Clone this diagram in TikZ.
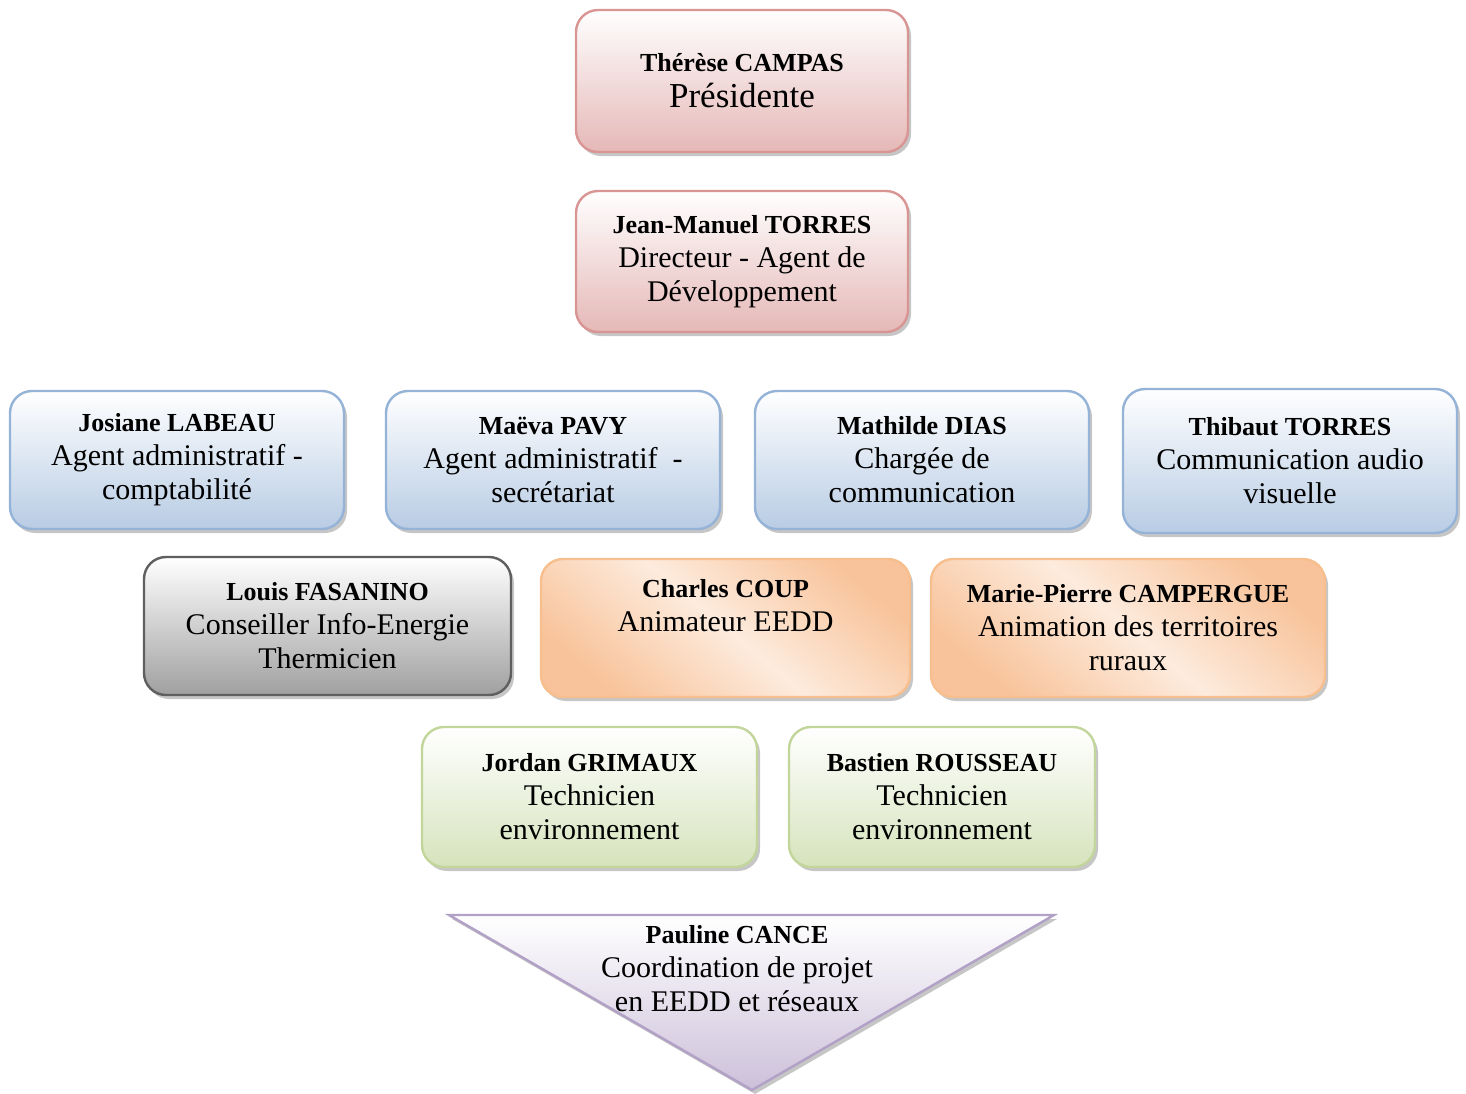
\documentclass[tikz,border=0pt]{standalone}
\usepackage{fontspec}
\setmainfont{Liberation Serif}
\usetikzlibrary{shadows}
\definecolor{pinkline}{HTML}{D99594}
\definecolor{pinkfill}{HTML}{E5B8B7}
\definecolor{blueline}{HTML}{95B3D7}
\definecolor{bluefill}{HTML}{B8CCE4}
\definecolor{grayline}{HTML}{5F5F5F}
\definecolor{grayfill}{HTML}{A0A0A0}
\definecolor{orangeline}{HTML}{F7BE8E}
\definecolor{orangefill}{HTML}{F8C39A}
\definecolor{orangelight}{HTML}{FDEBDD}
\definecolor{greenline}{HTML}{C2D69B}
\definecolor{greenfill}{HTML}{D6E3BC}
\definecolor{purpleline}{HTML}{B2A1C7}
\definecolor{purplefill}{HTML}{CCC0DA}
\newcommand{\who}[1]{{\fontsize{13}{17}\selectfont\bfseries #1}}
\tikzset{every card/.style={rounded corners=11pt, line width=1.2pt, align=center,
                            font=\fontsize{15}{17}\selectfont,
                            drop shadow={shadow xshift=1.5pt, shadow yshift=-2pt, opacity=0.45}},
        pink card/.style = {every card, draw=pinkline, top color=white, bottom color=pinkfill},
        blue card/.style = {every card, draw=blueline, top color=white, bottom color=bluefill},
        gray card/.style = {every card, draw=grayline, top color=white, bottom color=grayfill},
        orange card/.style = {every card, draw=orangeline, top color=orangefill,
                              bottom color=orangefill, middle color=orangelight, shading angle=-40},
        green card/.style = {every card, draw=greenline, top color=white, bottom color=greenfill},
        purple card/.style = {line width=1.2pt, draw=purpleline, top color=white, bottom color=purplefill,
                              drop shadow={shadow xshift=1.5pt, shadow yshift=-2pt, opacity=0.45}},
        }

\begin{document}
\begin{tikzpicture}[x=0.5pt,y=-0.5pt]
    \useasboundingbox (0,0) rectangle (1466,1093);

    % direction
    \node[pink card, minimum width=166pt, minimum height=71pt] (presidente) at (742,81)
        {\who{Thérèse CAMPAS}\\[1pt]{\fontsize{17.5}{19}\selectfont Présidente}};
    \node[pink card, minimum width=166pt, minimum height=70.5pt] (directeur) at (742,261.5)
        {\who{Jean-Manuel TORRES}\\Directeur - Agent de\\Développement};

    % administration and communication
    \node[blue card, minimum width=167pt, minimum height=69pt] (labeau) at (177,460)
        {\who{Josiane LABEAU}\\Agent administratif -\\comptabilité};
    \node[blue card, minimum width=167pt, minimum height=69pt] (pavy) at (553,460)
        {\who{Maëva PAVY}\\Agent administratif~~-\\secrétariat};
    \node[blue card, minimum width=167pt, minimum height=69pt] (dias) at (922,460)
        {\who{Mathilde DIAS}\\Chargée de\\communication};
    \node[blue card, minimum width=167pt, minimum height=72pt] (torres) at (1290,461)
        {\who{Thibaut TORRES}\\Communication audio\\visuelle};

    % energy and animation
    \node[gray card, minimum width=183.5pt, minimum height=69pt] (fasanino) at (327.5,626)
        {\who{Louis FASANINO}\\Conseiller Info-Energie\\Thermicien};
    \node[orange card, minimum width=184.5pt, minimum height=69pt] (coup) at (725.5,628)
        {\who{Charles COUP}\\Animateur EEDD\\\strut};
    \node[orange card, minimum width=197pt, minimum height=69pt] (campergue) at (1128,628)
        {\who{Marie-Pierre CAMPERGUE}\\Animation des territoires\\ruraux};

    % technicians
    \node[green card, minimum width=167.5pt, minimum height=70pt] (grimaux) at (589.5,797)
        {\who{Jordan GRIMAUX}\\Technicien\\environnement};
    \node[green card, minimum width=153pt, minimum height=70pt] (rousseau) at (942,797)
        {\who{Bastien ROUSSEAU}\\Technicien\\environnement};

    % coordination
    \draw[purple card] (449,915) -- (1054,915) -- (752,1090) -- cycle;
    \node[align=center, font=\fontsize{15}{17}\selectfont] (cance) at (737,969)
        {\who{Pauline CANCE}\\Coordination de projet\\en EEDD et réseaux};
\end{tikzpicture}
\end{document}
